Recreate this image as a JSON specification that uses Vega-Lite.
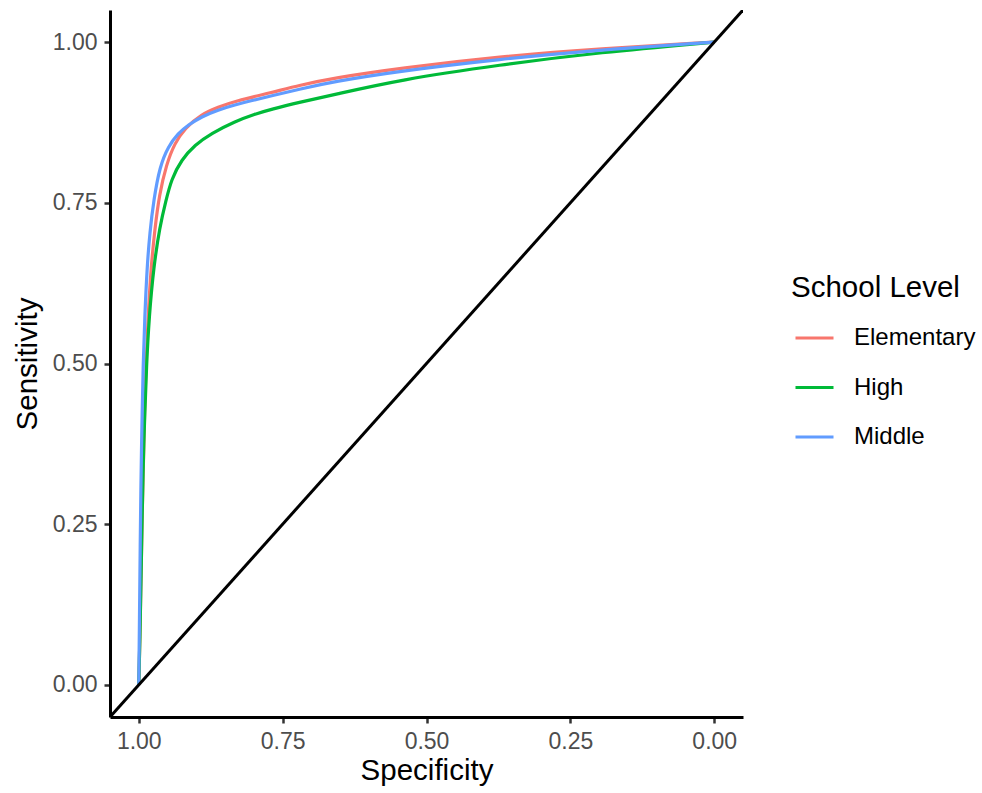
{
  "$schema": "https://vega.github.io/schema/vega-lite/v6.json",
  "width": 633,
  "height": 707,
  "autosize": {"type": "none"},
  "padding": {"left": 110, "top": 10, "right": 239, "bottom": 76},
  "background": "white",
  "config": {
    "font": "Liberation Sans",
    "view": {"stroke": null},
    "axis": {
      "grid": false,
      "domainColor": "black",
      "domainWidth": 3,
      "tickColor": "#333333",
      "tickWidth": 2.5,
      "tickSize": 6,
      "labelFont": "Liberation Sans",
      "labelFontSize": 23,
      "labelColor": "#4D4D4D",
      "labelPadding": 7,
      "titleFont": "Liberation Sans",
      "titleFontSize": 29.5,
      "titleFontWeight": "normal",
      "titleColor": "black"
    },
    "legend": {
      "titleFont": "Liberation Sans",
      "titleFontSize": 29.5,
      "titleFontWeight": "normal",
      "titleColor": "black",
      "labelFont": "Liberation Sans",
      "labelFontSize": 24,
      "labelColor": "black"
    }
  },
  "layer": [
    {
      "data": {
        "values": [
          {"level": "Elementary", "specificity": 1, "sensitivity": 0},
          {"level": "Elementary", "specificity": 0.998, "sensitivity": 0.07},
          {"level": "Elementary", "specificity": 0.996, "sensitivity": 0.17},
          {"level": "Elementary", "specificity": 0.994, "sensitivity": 0.27},
          {"level": "Elementary", "specificity": 0.9925, "sensitivity": 0.325},
          {"level": "Elementary", "specificity": 0.9913, "sensitivity": 0.366},
          {"level": "Elementary", "specificity": 0.9901, "sensitivity": 0.4175},
          {"level": "Elementary", "specificity": 0.9878, "sensitivity": 0.495},
          {"level": "Elementary", "specificity": 0.9838, "sensitivity": 0.573},
          {"level": "Elementary", "specificity": 0.9786, "sensitivity": 0.651},
          {"level": "Elementary", "specificity": 0.9722, "sensitivity": 0.708},
          {"level": "Elementary", "specificity": 0.9645, "sensitivity": 0.762},
          {"level": "Elementary", "specificity": 0.952, "sensitivity": 0.81},
          {"level": "Elementary", "specificity": 0.9374, "sensitivity": 0.843},
          {"level": "Elementary", "specificity": 0.92, "sensitivity": 0.866},
          {"level": "Elementary", "specificity": 0.891, "sensitivity": 0.888},
          {"level": "Elementary", "specificity": 0.862, "sensitivity": 0.899},
          {"level": "Elementary", "specificity": 0.833, "sensitivity": 0.908},
          {"level": "Elementary", "specificity": 0.7694, "sensitivity": 0.9216},
          {"level": "Elementary", "specificity": 0.7202, "sensitivity": 0.933},
          {"level": "Elementary", "specificity": 0.6624, "sensitivity": 0.944},
          {"level": "Elementary", "specificity": 0.5465, "sensitivity": 0.9595},
          {"level": "Elementary", "specificity": 0.373, "sensitivity": 0.9776},
          {"level": "Elementary", "specificity": 0.199, "sensitivity": 0.99},
          {"level": "Elementary", "specificity": 0, "sensitivity": 1},
          {"level": "High", "specificity": 1, "sensitivity": 0},
          {"level": "High", "specificity": 0.998, "sensitivity": 0.07},
          {"level": "High", "specificity": 0.996, "sensitivity": 0.17},
          {"level": "High", "specificity": 0.994, "sensitivity": 0.27},
          {"level": "High", "specificity": 0.9925, "sensitivity": 0.33},
          {"level": "High", "specificity": 0.9913, "sensitivity": 0.377},
          {"level": "High", "specificity": 0.9896, "sensitivity": 0.4175},
          {"level": "High", "specificity": 0.9867, "sensitivity": 0.495},
          {"level": "High", "specificity": 0.982, "sensitivity": 0.573},
          {"level": "High", "specificity": 0.974, "sensitivity": 0.651},
          {"level": "High", "specificity": 0.9635, "sensitivity": 0.713},
          {"level": "High", "specificity": 0.953, "sensitivity": 0.753},
          {"level": "High", "specificity": 0.9432, "sensitivity": 0.787},
          {"level": "High", "specificity": 0.9258, "sensitivity": 0.817},
          {"level": "High", "specificity": 0.9027, "sensitivity": 0.84},
          {"level": "High", "specificity": 0.874, "sensitivity": 0.858},
          {"level": "High", "specificity": 0.833, "sensitivity": 0.8766},
          {"level": "High", "specificity": 0.7984, "sensitivity": 0.888},
          {"level": "High", "specificity": 0.7694, "sensitivity": 0.8957},
          {"level": "High", "specificity": 0.7202, "sensitivity": 0.9065},
          {"level": "High", "specificity": 0.6624, "sensitivity": 0.918},
          {"level": "High", "specificity": 0.5465, "sensitivity": 0.9414},
          {"level": "High", "specificity": 0.373, "sensitivity": 0.9647},
          {"level": "High", "specificity": 0.199, "sensitivity": 0.984},
          {"level": "High", "specificity": 0, "sensitivity": 1},
          {"level": "Middle", "specificity": 1, "sensitivity": 0},
          {"level": "Middle", "specificity": 0.9988, "sensitivity": 0.1},
          {"level": "Middle", "specificity": 0.9975, "sensitivity": 0.22},
          {"level": "Middle", "specificity": 0.9963, "sensitivity": 0.31},
          {"level": "Middle", "specificity": 0.9953, "sensitivity": 0.366},
          {"level": "Middle", "specificity": 0.9942, "sensitivity": 0.4175},
          {"level": "Middle", "specificity": 0.9925, "sensitivity": 0.495},
          {"level": "Middle", "specificity": 0.9896, "sensitivity": 0.573},
          {"level": "Middle", "specificity": 0.9855, "sensitivity": 0.651},
          {"level": "Middle", "specificity": 0.9809, "sensitivity": 0.703},
          {"level": "Middle", "specificity": 0.974, "sensitivity": 0.7546},
          {"level": "Middle", "specificity": 0.9635, "sensitivity": 0.8065},
          {"level": "Middle", "specificity": 0.949, "sensitivity": 0.8375},
          {"level": "Middle", "specificity": 0.9317, "sensitivity": 0.858},
          {"level": "Middle", "specificity": 0.9143, "sensitivity": 0.871},
          {"level": "Middle", "specificity": 0.891, "sensitivity": 0.884},
          {"level": "Middle", "specificity": 0.862, "sensitivity": 0.8946},
          {"level": "Middle", "specificity": 0.833, "sensitivity": 0.9024},
          {"level": "Middle", "specificity": 0.804, "sensitivity": 0.909},
          {"level": "Middle", "specificity": 0.7694, "sensitivity": 0.9163},
          {"level": "Middle", "specificity": 0.7202, "sensitivity": 0.927},
          {"level": "Middle", "specificity": 0.6624, "sensitivity": 0.9385},
          {"level": "Middle", "specificity": 0.5465, "sensitivity": 0.955},
          {"level": "Middle", "specificity": 0.373, "sensitivity": 0.9735},
          {"level": "Middle", "specificity": 0.199, "sensitivity": 0.988},
          {"level": "Middle", "specificity": 0, "sensitivity": 1}
        ]
      },
      "mark": {"type": "line", "strokeWidth": 3.2, "clip": true, "interpolate": "basis"},
      "encoding": {
        "x": {
          "field": "specificity",
          "type": "quantitative",
          "title": "Specificity",
          "scale": {"domain": [-0.05, 1.05], "reverse": true, "nice": false, "zero": false},
          "axis": {"values": [0, 0.25, 0.5, 0.75, 1], "format": ".2f", "titlePadding": 3}
        },
        "y": {
          "field": "sensitivity",
          "type": "quantitative",
          "title": "Sensitivity",
          "scale": {"domain": [-0.05, 1.05], "nice": false, "zero": false},
          "axis": {"values": [0, 0.25, 0.5, 0.75, 1], "format": ".2f", "titlePadding": 10}
        },
        "color": {
          "field": "level",
          "type": "nominal",
          "title": "School Level",
          "scale": {"domain": ["Elementary", "High", "Middle"], "range": ["#F8766D", "#00BA38", "#619CFF"]},
          "legend": {
            "orient": "none",
            "legendX": 681,
            "legendY": 264,
            "padding": 0,
            "symbolType": "stroke",
            "symbolSize": 1444,
            "symbolStrokeWidth": 3,
            "symbolOffset": 3,
            "labelOffset": 19,
            "rowPadding": 16.5,
            "titlePadding": 14
          }
        }
      }
    },
    {
      "data": {
        "values": [
          {"specificity": 1.05, "sensitivity": -0.05},
          {"specificity": -0.05, "sensitivity": 1.05}
        ]
      },
      "mark": {"type": "line", "color": "black", "strokeWidth": 3, "clip": true},
      "encoding": {
        "x": {"field": "specificity", "type": "quantitative"},
        "y": {"field": "sensitivity", "type": "quantitative"}
      }
    }
  ]
}
